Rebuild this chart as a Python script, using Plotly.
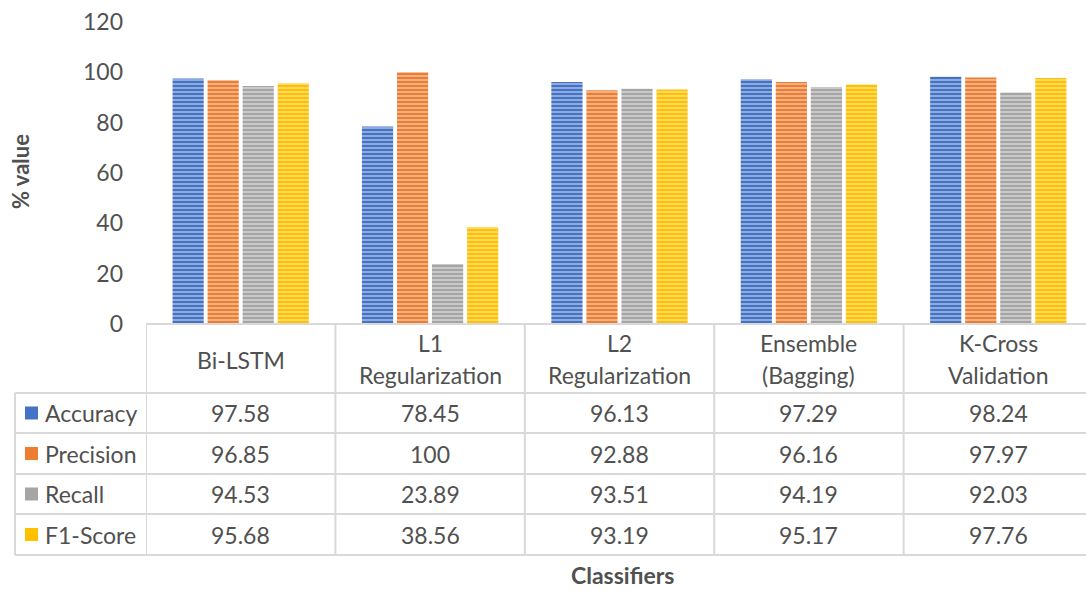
import plotly.graph_objects as go

categories = ["Bi-LSTM", "L1 Regularization", "L2 Regularization", "Ensemble (Bagging)", "K-Cross Validation"]
header_lines = [["Bi-LSTM"], ["L1", "Regularization"], ["L2", "Regularization"],
                ["Ensemble", "(Bagging)"], ["K-Cross", "Validation"]]
series_names = ["Accuracy", "Precision", "Recall", "F1-Score"]
accuracy = [97.58, 78.45, 96.13, 97.29, 98.24]
precision = [96.85, 100, 92.88, 96.16, 97.97]
recall = [94.53, 23.89, 93.51, 94.19, 92.03]
f1_score = [95.68, 38.56, 93.19, 95.17, 97.76]
value_labels = [
    ["97.58", "78.45", "96.13", "97.29", "98.24"],
    ["96.85", "100", "92.88", "96.16", "97.97"],
    ["94.53", "23.89", "93.51", "94.19", "92.03"],
    ["95.68", "38.56", "93.19", "95.17", "97.76"],
]
colors = ["#4472C4", "#ED7D31", "#A5A5A5", "#FFC000"]
y_ticks = [0, 20, 40, 60, 80, 100, 120]

series = [accuracy, precision, recall, f1_score]

W, H = 1086, 590
ML, MR, MT, MB = 146, 0, 22, 266
plot_h = H - MT - MB
FONT = "Lato"
TXT = "#505050"
GRID = "#D9D9D9"
FS = 23


def py(p):
    return (H - MB - p) / plot_h


def px(p):
    return (p - ML) / (W - ML - MR)


fig = go.Figure()
for name, vals, col in zip(series_names, series, colors):
    fig.add_trace(go.Bar(
        x=categories, y=vals, name=name,
        marker=dict(color=col, line=dict(width=0),
                    pattern=dict(shape="-", fillmode="overlay", fgcolor="white",
                                 fgopacity=0.5, size=4, solidity=0.4)),
        showlegend=False,
    ))

shapes = []
row_edges = [393, 433, 474, 514, 555]
shapes.append(dict(type="line", xref="paper", yref="paper", x0=0, x1=1,
                   y0=py(324), y1=py(324), line=dict(color=GRID, width=2)))
for r in row_edges:
    shapes.append(dict(type="line", xref="paper", yref="paper", x0=px(15), x1=1,
                       y0=py(r), y1=py(r), line=dict(color=GRID, width=2)))
shapes.append(dict(type="line", xref="paper", yref="paper", x0=px(15), x1=px(15),
                   y0=py(393), y1=py(555), line=dict(color=GRID, width=2)))
for i in range(len(categories)):
    shapes.append(dict(type="line", xref="x", yref="paper", x0=i - 0.5, x1=i - 0.5,
                       y0=py(324), y1=py(555), line=dict(color=GRID, width=2)))

annotations = []
for i, lines in enumerate(header_lines):
    ys = [360] if len(lines) == 1 else [343, 375]
    for ln, yy in zip(lines, ys):
        annotations.append(dict(x=i, xref="x", y=py(yy), yref="paper", text=ln,
                                showarrow=False, xanchor="center", yanchor="middle",
                                font=dict(family=FONT, size=FS, color=TXT)))
row_centers = [413, 453.5, 494, 534.5]
for r, (name, col, labels) in enumerate(zip(series_names, colors, value_labels)):
    yc = row_centers[r]
    shapes.append(dict(type="rect", xref="paper", yref="paper", x0=px(25), x1=px(38),
                       y0=py(yc + 6.5), y1=py(yc - 6.5), fillcolor=col, line=dict(width=0)))
    annotations.append(dict(x=px(43), xref="paper", y=py(yc), yref="paper", text=name,
                            showarrow=False, xanchor="left", yanchor="middle",
                            font=dict(family=FONT, size=FS, color=TXT)))
    for i, lab in enumerate(labels):
        annotations.append(dict(x=i, xref="x", y=py(yc), yref="paper", text=lab,
                                showarrow=False, xanchor="center", yanchor="middle",
                                font=dict(family=FONT, size=FS, color=TXT)))

annotations.append(dict(x=px(20), xref="paper", y=py(172), yref="paper", text="<b>% value</b>",
                        textangle=-90, showarrow=False, xanchor="center", yanchor="middle",
                        borderpad=0, font=dict(family=FONT, size=22, color=TXT)))
annotations.append(dict(x=px(622), xref="paper", y=py(575), yref="paper", text="<b>Classifiers</b>",
                        showarrow=False, xanchor="center", yanchor="middle",
                        borderpad=0, font=dict(family=FONT, size=23, color=TXT)))

cat_per_px = 1 / 189.4
fig.update_layout(
    width=W, height=H,
    margin=dict(l=ML, r=MR, t=MT, b=MB),
    paper_bgcolor="white", plot_bgcolor="white",
    barmode="group", bargap=0.26, bargroupgap=0.11,
    shapes=shapes, annotations=annotations,
    xaxis=dict(type="category", range=[-0.5, -0.5 + (W - ML - MR) * cat_per_px],
               showticklabels=False, showgrid=False, zeroline=False, showline=False,
               ticks="", fixedrange=True),
    yaxis=dict(range=[0, 120], tickvals=y_ticks, showgrid=False, zeroline=False,
               showline=False, ticks="", ticklabelstandoff=22,
               tickfont=dict(family=FONT, size=FS, color=TXT)),
)

fig.write_html("out.html")
